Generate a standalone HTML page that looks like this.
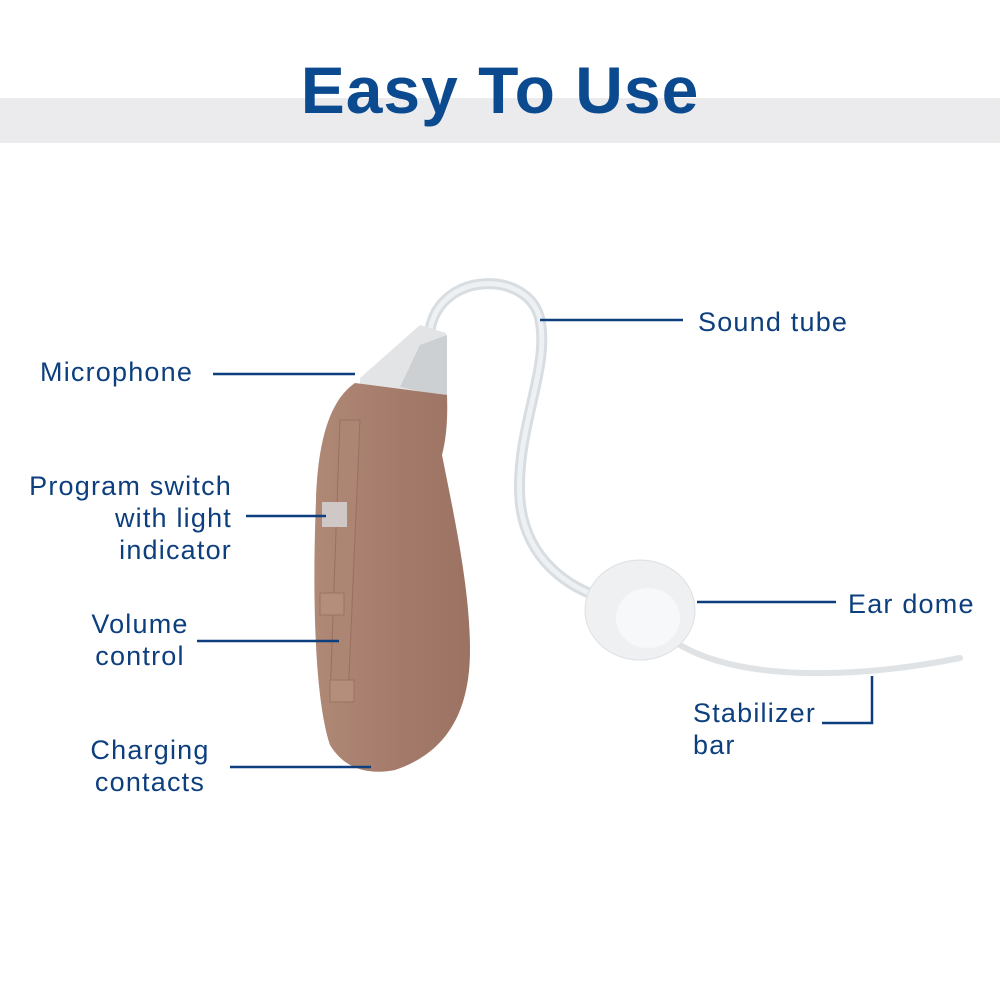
<!DOCTYPE html>
<html><head><meta charset="utf-8"><style>
html,body{margin:0;padding:0;background:#fff;}
body{width:1000px;height:1000px;position:relative;overflow:hidden;font-family:"Liberation Sans",sans-serif;}
.band{position:absolute;left:0;top:98px;width:1000px;height:45px;background:#ebebee;}
.title{position:absolute;left:0;width:1000px;top:52px;text-align:center;font-weight:bold;font-size:66px;color:#0b4a8e;letter-spacing:1px;}
.l{position:absolute;font-size:27px;color:#0d3f7e;line-height:32px;letter-spacing:1.2px;}
</style></head><body>
<div class="band"></div>
<div class="title">Easy To Use</div>
<svg width="1000" height="1000" style="position:absolute;left:0;top:0">
<defs>
<linearGradient id="bg" x1="0" x2="1"><stop offset="0" stop-color="#b08876"/><stop offset="0.5" stop-color="#a57c6b"/><stop offset="1" stop-color="#9c7363"/></linearGradient>
</defs>
<path d="M430,330 C440,270 530,270 540,320 C550,370 515,430 520,500 C525,560 570,590 610,600" fill="none" stroke="#d8dde2" stroke-width="11" stroke-linecap="round"/>
<path d="M430,330 C440,270 530,270 540,320 C550,370 515,430 520,500 C525,560 570,590 610,600" fill="none" stroke="#eef1f3" stroke-width="5" stroke-linecap="round"/>
<path d="M680,645 C740,680 850,680 960,658" fill="none" stroke="#dfe3e6" stroke-width="6" stroke-linecap="round"/>
<ellipse cx="640" cy="610" rx="55" ry="50" fill="#eef0f2" stroke="#dde0e3"/>
<ellipse cx="648" cy="618" rx="32" ry="30" fill="#f7f8f9"/>
<path d="M360,378 L420,325 L446,333 L447,397 L360,385 Z" fill="#e2e4e6"/>
<path d="M400,387 L420,345 L447,335 L447,397 Z" fill="#cdd0d2"/>
<path d="M355,383 L447,395 C448,420 446,440 442,455 C455,520 470,590 470,650 C470,720 440,755 395,770 C370,775 345,770 330,745 C315,700 312,600 316,500 C318,440 330,400 355,383 Z" fill="url(#bg)"/>
<path d="M340,420 L360,420 L348,700 L330,700 Z" fill="#ad8573" stroke="#97705f"/>
<rect x="322" y="502" width="25" height="25" fill="#cfc8c6"/>
<rect x="320" y="593" width="24" height="22" fill="#b48d7b" stroke="#9a7362"/>
<rect x="330" y="680" width="24" height="22" fill="#b48d7b" stroke="#9a7362"/>
<g stroke="#0d3f7e" stroke-width="2.5" fill="none">
<line x1="213" y1="374" x2="355" y2="374"/>
<line x1="540" y1="320" x2="683" y2="320"/>
<line x1="246" y1="516" x2="326" y2="516"/>
<line x1="197" y1="641" x2="339" y2="641"/>
<line x1="230" y1="767" x2="371" y2="767"/>
<line x1="697" y1="602" x2="836" y2="602"/>
<polyline points="822,723 872,723 872,676"/>
</g>
</svg>
<div class="l" style="left:40px;top:356px">Microphone</div>
<div class="l" style="left:698px;top:306px">Sound tube</div>
<div class="l" style="left:0px;top:470px;text-align:right;width:232px">Program switch<br>with light<br>indicator</div>
<div class="l" style="left:60px;top:608px;text-align:center;width:160px">Volume<br>control</div>
<div class="l" style="left:70px;top:734px;text-align:center;width:160px">Charging<br>contacts</div>
<div class="l" style="left:848px;top:588px">Ear dome</div>
<div class="l" style="left:693px;top:697px">Stabilizer<br>bar</div>
</body></html>
